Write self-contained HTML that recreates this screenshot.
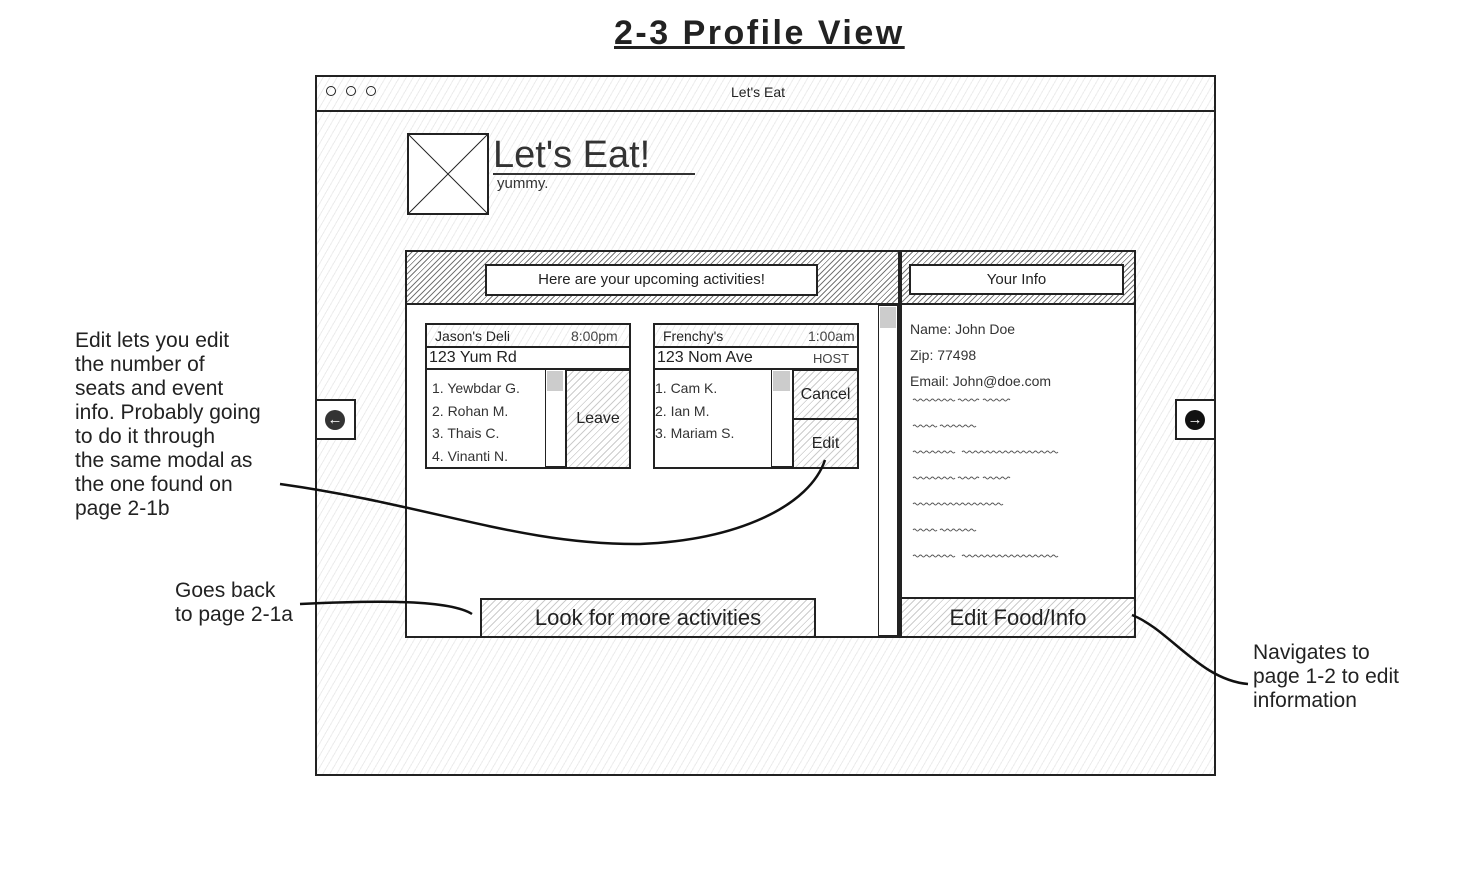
<!DOCTYPE html>
<html><head><meta charset="utf-8"><style>
body{margin:0;width:1478px;height:885px;background:#fff;position:relative;overflow:hidden;font-family:"Liberation Sans",sans-serif;color:#222}
.a{position:absolute;box-sizing:border-box}
.hatch{background:repeating-linear-gradient(135deg,#fff 0,#fff 4px,#ccc 4px,#ccc 5px)}
.lhatch{background:repeating-linear-gradient(120deg,#fff 0,#fff 5px,#ececec 5px,#ececec 6px)}
.dh{background:repeating-linear-gradient(135deg,#fff 0,#fff 3px,#777 3px,#777 4px)}
.b{border:2px solid #222}
.w{background:#fff}
.t{position:absolute;white-space:nowrap}
.ann{position:absolute;font-size:21px;line-height:24px;color:#222}
</style></head><body>
<div class="t" style="left:614px;top:14px;font-size:34px;letter-spacing:2.5px;font-weight:bold;text-decoration:underline">2-3 Profile View</div>

<div class="a b lhatch" style="left:315px;top:75px;width:901px;height:701px"></div>
<div class="a lhatch" style="left:315px;top:75px;width:901px;height:37px;border:2px solid #222"></div>
<div class="a" style="left:326px;top:86px;width:10px;height:10px;border:1.5px solid #222;border-radius:50%"></div>
<div class="a" style="left:346px;top:86px;width:10px;height:10px;border:1.5px solid #222;border-radius:50%"></div>
<div class="a" style="left:366px;top:86px;width:10px;height:10px;border:1.5px solid #222;border-radius:50%"></div>
<div class="t" style="left:731px;top:84px;font-size:14px">Let's Eat</div>

<div class="a b w" style="left:407px;top:133px;width:82px;height:82px"></div>
<svg class="a" style="left:407px;top:133px" width="82" height="82"><line x1="2" y1="2" x2="80" y2="80" stroke="#222"/><line x1="80" y1="2" x2="2" y2="80" stroke="#222"/></svg>
<div class="t" style="left:493px;top:134px;font-size:38px;color:#333">Let's Eat!</div>
<div class="a" style="left:493px;top:173px;width:202px;height:2px;background:#333"></div>
<div class="t" style="left:497px;top:175px;font-size:15px;color:#333">yummy.</div>

<div class="a b w" style="left:405px;top:250px;width:495px;height:388px"></div>
<div class="a dh" style="left:405px;top:250px;width:495px;height:55px;border:2px solid #222"></div>
<div class="a b w" style="left:485px;top:264px;width:333px;height:32px;text-align:center;font-size:15px;line-height:28px">Here are your upcoming activities!</div>
<div class="a" style="left:878px;top:305px;width:20px;height:331px;border:1.5px solid #222;background:#fff"></div>
<div class="a" style="left:880px;top:307px;width:16px;height:21px;background:#ccc"></div>

<div class="a b w" style="left:425px;top:323px;width:206px;height:146px"></div>
<div class="a lhatch" style="left:425px;top:323px;width:206px;height:25px;border:2px solid #222"></div>
<div class="t" style="left:435px;top:328px;font-size:14px">Jason's Deli</div>
<div class="t" style="left:571px;top:328px;font-size:14px;color:#444">8:00pm</div>
<div class="a" style="left:425px;top:346px;width:206px;height:24px;border:2px solid #222;background:#fff"></div>
<div class="t" style="left:429px;top:349px;font-size:16px">123 Yum Rd</div>
<div class="t" style="left:432px;top:377px;font-size:14px;line-height:22.5px;color:#333">1. Yewbdar G.<br>2. Rohan M.<br>3. Thais C.<br>4. Vinanti N.</div>
<div class="a" style="left:545px;top:369px;width:21px;height:98px;border:1.5px solid #222;background:#fff"></div>
<div class="a" style="left:547px;top:371px;width:16px;height:20px;background:#ccc"></div>
<div class="a hatch" style="left:565px;top:369px;width:66px;height:100px;border:2px solid #222;font-size:16px;text-align:center;line-height:96px">Leave</div>

<div class="a b w" style="left:653px;top:323px;width:206px;height:146px"></div>
<div class="a lhatch" style="left:653px;top:323px;width:206px;height:25px;border:2px solid #222"></div>
<div class="t" style="left:663px;top:328px;font-size:14px">Frenchy's</div>
<div class="t" style="left:808px;top:328px;font-size:14px;color:#444">1:00am</div>
<div class="a" style="left:653px;top:346px;width:206px;height:24px;border:2px solid #222;background:#fff"></div>
<div class="t" style="left:657px;top:349px;font-size:16px">123 Nom Ave</div>
<div class="t" style="left:813px;top:351px;font-size:13px;color:#444">HOST</div>
<div class="t" style="left:655px;top:377px;font-size:14px;line-height:22.5px;color:#333">1. Cam K.<br>2. Ian M.<br>3. Mariam S.</div>
<div class="a" style="left:771px;top:369px;width:22px;height:98px;border:1.5px solid #222;background:#fff"></div>
<div class="a" style="left:773px;top:371px;width:17px;height:20px;background:#ccc"></div>
<div class="a hatch" style="left:792px;top:369px;width:67px;height:51px;border:2px solid #222;font-size:16px;text-align:center;line-height:47px">Cancel</div>
<div class="a hatch" style="left:792px;top:418px;width:67px;height:51px;border:2px solid #222;font-size:16px;text-align:center;line-height:47px">Edit</div>

<div class="a hatch" style="left:480px;top:598px;width:336px;height:40px;border:2px solid #222;font-size:22px;text-align:center;line-height:36px">Look for more activities</div>

<div class="a b w" style="left:900px;top:250px;width:236px;height:388px"></div>
<div class="a dh" style="left:900px;top:250px;width:236px;height:55px;border:2px solid #222"></div>
<div class="a b w" style="left:909px;top:264px;width:215px;height:31px;text-align:center;font-size:15px;line-height:27px">Your Info</div>
<div class="t" style="left:910px;top:316px;font-size:14px;line-height:26px;color:#333">Name: John Doe<br>Zip: 77498<br>Email: John@doe.com</div>
<svg class="a" style="left:910px;top:392px" width="150" height="170" stroke="#555" fill="none" stroke-width="1">
<g id="s1"><path d="M3 8 q1.5-2 3 0 q1.5 2 3 0 q1.5-2 3 0 q1.5 2 3 0 q1.5-2 3 0 q1.5 2 3 0 q1.5-2 3 0 q1.5 2 3 0 q1.5-2 3 0 q1.5 2 3 0 q1.5-2 3 0 q1.5 2 3 0 q1.5-2 3 0 q1.5 2 3 0"/><path d="M48 8 q1.5-2 3 0 q1.5 2 3 0 q1.5-2 3 0 q1.5 2 3 0 q1.5-2 3 0 q1.5 2 3 0 q1.5-2 3 0"/><path d="M73 8 q1.5-2 3 0 q1.5 2 3 0 q1.5-2 3 0 q1.5 2 3 0 q1.5-2 3 0 q1.5 2 3 0 q1.5-2 3 0 q1.5 2 3 0 q1.5-2 3 0"/></g>
<g transform="translate(0,26)"><path d="M3 8 q1.5-2 3 0 q1.5 2 3 0 q1.5-2 3 0 q1.5 2 3 0 q1.5-2 3 0 q1.5 2 3 0 q1.5-2 3 0 q1.5 2 3 0"/><path d="M30 8 q1.5-2 3 0 q1.5 2 3 0 q1.5-2 3 0 q1.5 2 3 0 q1.5-2 3 0 q1.5 2 3 0 q1.5-2 3 0 q1.5 2 3 0 q1.5-2 3 0 q1.5 2 3 0 q1.5-2 3 0 q1.5 2 3 0"/></g>
<g transform="translate(0,52)" id="s3"><path d="M3 8 q1.5-2 3 0 q1.5 2 3 0 q1.5-2 3 0 q1.5 2 3 0 q1.5-2 3 0 q1.5 2 3 0 q1.5-2 3 0 q1.5 2 3 0 q1.5-2 3 0 q1.5 2 3 0 q1.5-2 3 0 q1.5 2 3 0 q1.5-2 3 0 q1.5 2 3 0"/><path d="M52 8 q1.5-2 3 0 q1.5 2 3 0 q1.5-2 3 0 q1.5 2 3 0 q1.5-2 3 0 q1.5 2 3 0 q1.5-2 3 0 q1.5 2 3 0 q1.5-2 3 0 q1.5 2 3 0 q1.5-2 3 0 q1.5 2 3 0 q1.5-2 3 0 q1.5 2 3 0 q1.5-2 3 0 q1.5 2 3 0 q1.5-2 3 0 q1.5 2 3 0 q1.5-2 3 0 q1.5 2 3 0 q1.5-2 3 0 q1.5 2 3 0 q1.5-2 3 0 q1.5 2 3 0 q1.5-2 3 0 q1.5 2 3 0 q1.5-2 3 0 q1.5 2 3 0 q1.5-2 3 0 q1.5 2 3 0 q1.5-2 3 0 q1.5 2 3 0"/></g>
<use href="#s1" transform="translate(0,78)"/>
<g transform="translate(0,104)"><path d="M3 8 q1.5-2 3 0 q1.5 2 3 0 q1.5-2 3 0 q1.5 2 3 0 q1.5-2 3 0 q1.5 2 3 0 q1.5-2 3 0 q1.5 2 3 0 q1.5-2 3 0 q1.5 2 3 0 q1.5-2 3 0 q1.5 2 3 0 q1.5-2 3 0 q1.5 2 3 0 q1.5-2 3 0 q1.5 2 3 0 q1.5-2 3 0 q1.5 2 3 0 q1.5-2 3 0 q1.5 2 3 0 q1.5-2 3 0 q1.5 2 3 0 q1.5-2 3 0 q1.5 2 3 0 q1.5-2 3 0 q1.5 2 3 0 q1.5-2 3 0 q1.5 2 3 0 q1.5-2 3 0 q1.5 2 3 0"/></g>
<g transform="translate(0,130)"><path d="M3 8 q1.5-2 3 0 q1.5 2 3 0 q1.5-2 3 0 q1.5 2 3 0 q1.5-2 3 0 q1.5 2 3 0 q1.5-2 3 0 q1.5 2 3 0"/><path d="M30 8 q1.5-2 3 0 q1.5 2 3 0 q1.5-2 3 0 q1.5 2 3 0 q1.5-2 3 0 q1.5 2 3 0 q1.5-2 3 0 q1.5 2 3 0 q1.5-2 3 0 q1.5 2 3 0 q1.5-2 3 0 q1.5 2 3 0"/></g>
<use href="#s3" transform="translate(0,104)"/>
</svg>
<div class="a hatch" style="left:900px;top:597px;width:236px;height:41px;border:2px solid #222;font-size:22px;text-align:center;line-height:37px">Edit Food/Info</div>

<div class="a b w" style="left:315px;top:399px;width:41px;height:41px"></div>
<div class="a" style="left:325px;top:410px;width:20px;height:20px;border-radius:50%;background:#333;color:#fff;font-size:15px;font-weight:bold;text-align:center;line-height:20px">&#8592;</div>
<div class="a b w" style="left:1175px;top:399px;width:41px;height:41px"></div>
<div class="a" style="left:1185px;top:410px;width:20px;height:20px;border-radius:50%;background:#111;color:#fff;font-size:15px;font-weight:bold;text-align:center;line-height:20px">&#8594;</div>

<div class="ann" style="left:75px;top:329px">Edit lets you edit<br>the number of<br>seats and event<br>info. Probably going<br>to do it through<br>the same modal as<br>the one found on<br>page 2-1b</div>
<div class="ann" style="left:175px;top:579px">Goes back<br>to page 2-1a</div>
<div class="ann" style="left:1253px;top:641px">Navigates to<br>page 1-2 to edit<br>information</div>
<svg class="a" style="left:0;top:0" width="1478" height="885" fill="none" stroke="#111" stroke-width="2.5">
<path d="M280 484 C 430 505, 520 545, 640 544 C 740 540, 810 505, 825 460"/>
<path d="M300 604 C 380 600, 450 600, 472 614"/>
<path d="M1132 615 C 1170 630, 1200 680, 1248 684"/>
</svg>
</body></html>
